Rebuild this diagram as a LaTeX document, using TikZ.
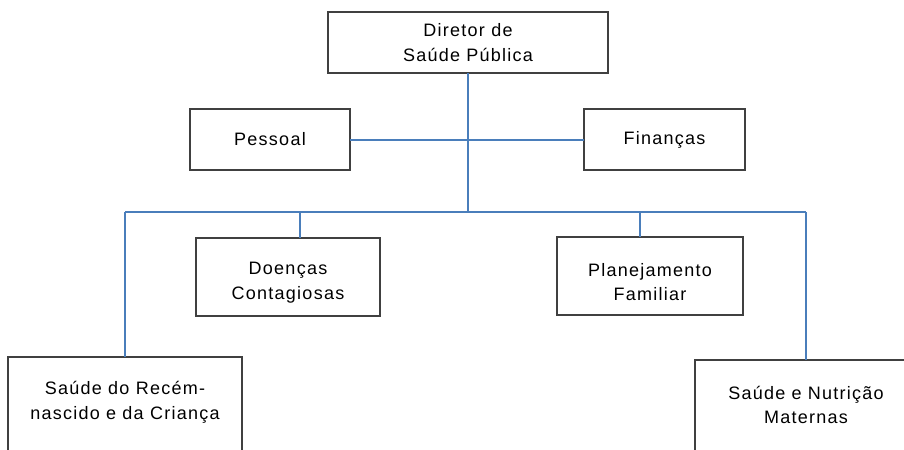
\documentclass[tikz,border=0pt]{standalone}
\usepackage{fontspec}
\setmainfont[LetterSpace=7]{Liberation Sans}
\definecolor{linkblue}{RGB}{74,126,187}
\definecolor{boxgray}{RGB}{64,64,64}
\tikzset{
  txt/.style={align=center,inner sep=0pt,font=\fontsize{13.5}{18.5}\selectfont},
  box/.style={txt,draw=boxgray,line width=0.9pt,fill=white,outer sep=0pt},
  link/.style={draw=linkblue,line width=1.5pt}
}
\begin{document}
\begin{tikzpicture}[x=0.75pt,y=-0.75pt]
  \useasboundingbox (0,0) rectangle (904,450);
  \clip (0,0) rectangle (904,450);
  % boxes
  \node[box,minimum width=210pt,minimum height=45.75pt] (dir) at (468,42.5) {Diretor de\\Saúde Pública};
  \node[box,minimum width=120pt,minimum height=45.75pt] (pes) at (270,139.5) {Pessoal};
  \node[box,minimum width=120.75pt,minimum height=45.75pt] (fin) at (664.5,139.5) {Finanças};
  \node[box,minimum width=138pt,minimum height=58.5pt] (doe) at (288,277) {};
  \node[box,minimum width=139.5pt,minimum height=58.5pt] (pla) at (650,276) {};
  \node[box,minimum width=175.5pt,minimum height=97.5pt,anchor=north] (rec) at (125,357) {};
  \node[box,minimum width=166.5pt,minimum height=97.5pt,anchor=north] (nat) at (806,360) {};
  % texts of the lower boxes
  \node[txt] (doeT) at (288,283) {Doenças\\Contagiosas};
  \node[txt] (plaT) at (650,282) {Planejamento\\Familiar};
  \node[txt] (recT) at (125,402) {Saúde do Recém-\\nascido e da Criança};
  \node[txt] (natT) at (806,405) {Saúde e Nutrição\\Maternas};
  % connectors
  \coordinate (bus) at (468,212);
  \coordinate (busL) at (125,212);
  \coordinate (busR) at (806,212);
  \coordinate (bDoe) at (300,212);
  \coordinate (bPla) at (640,212);
  \draw[link] (dir.south) -- (bus);
  \draw[link] (pes.east) -- (fin.west);
  \draw[link] (busL) -- (busR);
  \draw[link] (busL) -- (rec.north);
  \draw[link] (busR) -- (nat.north);
  \draw[link] (bDoe) -- (bDoe |- doe.north);
  \draw[link] (bPla) -- (bPla |- pla.north);
\end{tikzpicture}
\end{document}
